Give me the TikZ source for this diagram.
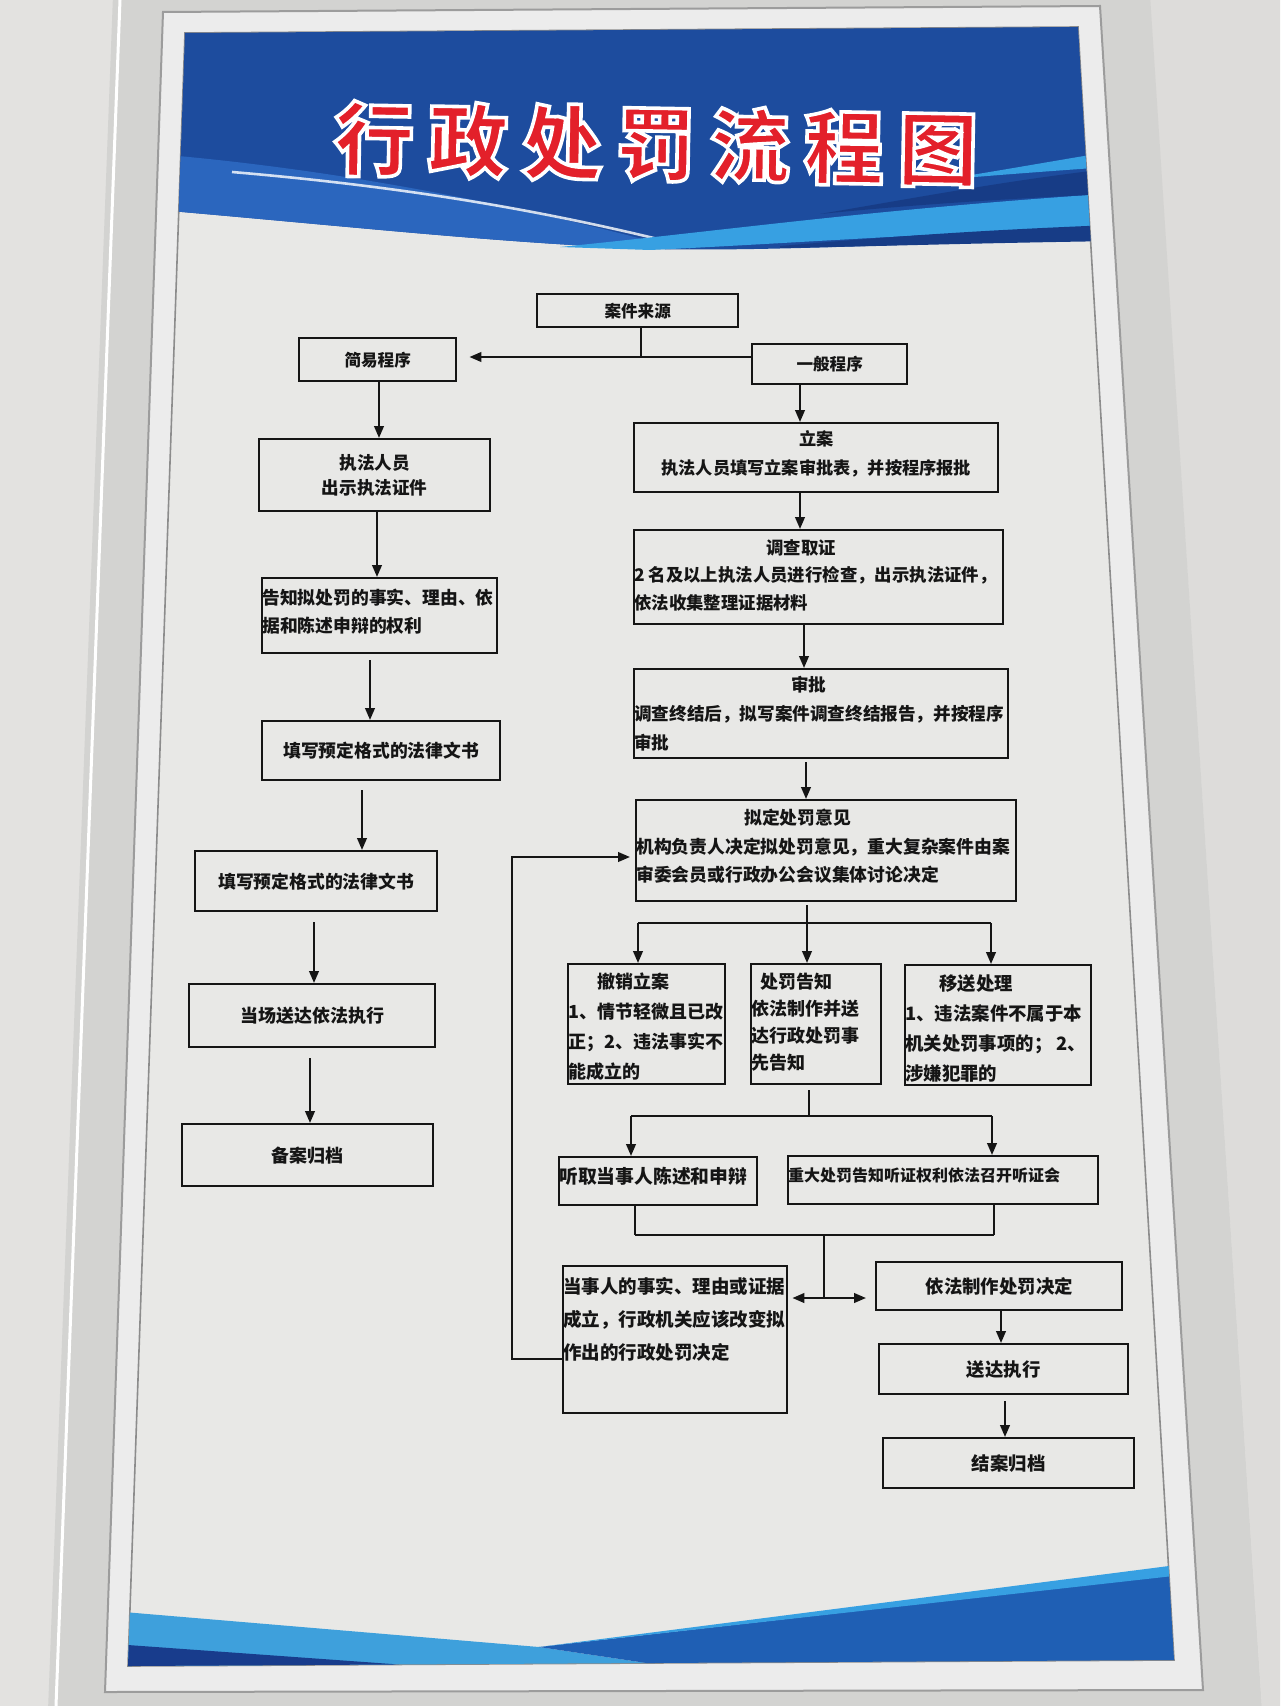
\documentclass[tikz,border=0pt]{standalone}
\usepackage{fontspec}
\setmainfont{Noto Sans CJK SC}
\usetikzlibrary{arrows.meta}
\definecolor{wall}{HTML}{E3E2E0}
\definecolor{wallR}{HTML}{DDDCDA}
\definecolor{frameface}{HTML}{D3D3D1}
\definecolor{lip}{HTML}{ECECEC}
\definecolor{lipedge}{HTML}{9C9C9C}
\definecolor{poster}{HTML}{E8E8E6}
\definecolor{hdark}{HTML}{1D4C9E}
\definecolor{hmid}{HTML}{2B66BE}
\definecolor{hcyan}{HTML}{37A0E2}
\definecolor{hnavy}{HTML}{173C86}
\definecolor{flight}{HTML}{3EA0DC}
\definecolor{fblue}{HTML}{1F5FB4}
\definecolor{fnavy}{HTML}{183C8C}
\definecolor{titlered}{HTML}{E3202A}
\definecolor{ink}{HTML}{151515}
\newcommand\cell[3]{\parbox[c][\dimexpr #2pt/2\relax][t]{\dimexpr #1pt/2\relax}{#3}}
\newcommand\outlineon{\special{pdf:literal direct 2 Tr 1 1 1 RG 1.8 w}}
\newcommand\outlineoff{\special{pdf:literal direct 0 Tr}}
\tikzset{
  box/.style={draw=ink, line width=1.2pt, inner sep=0pt, anchor=north west, text=ink},
  fnt/.style 2 args={font=\bfseries\fontsize{#1pt}{#2pt}\selectfont},
  conn/.style={draw=ink, line width=1.1pt, line join=miter},
  arr/.style={conn, -{Triangle[length=6pt,width=4.8pt]}},
  darr/.style={conn, {Triangle[length=6pt,width=4.8pt]}-{Triangle[length=6pt,width=4.8pt]}},
}
\begin{document}
\begin{tikzpicture}[x=0.5pt, y=-0.5pt]
\useasboundingbox (0,0) rectangle (1280,1706);
% wall and frame
\fill[wall] (0,0) rectangle (1280,1706);
\fill[wallR] (1150,0) -- (1280,0) -- (1280,1706) -- (1262,1706) -- cycle;
\fill[frameface] (113,-5) -- (1150,-5) -- (1262,1711) -- (48,1711) -- cycle;
\draw[white, line width=1.5pt] (120,0) -- (56,1706);
\fill[lip] (163,12) -- (1100,6) -- (1203,1690) -- (105,1692) -- cycle;
\draw[lipedge, line width=1pt] (163,12) -- (1100,6) -- (1203,1690) -- (105,1692) -- cycle;
\fill[poster] (185,33) -- (1078,27) -- (1174,1660) -- (128,1666) -- cycle;
\draw[black!45, line width=0.8pt] (185,33) -- (1078,27) -- (1174,1660) -- (128,1666) -- cycle;
% header and footer
\begin{scope}
\clip (185,33) -- (1078,27) -- (1174,1660) -- (128,1666) -- cycle;
\fill[hdark] (100,0) -- (1200,0) -- (1200,238) .. controls (950,240) and (800,252) .. (650,249) .. controls (480,242) and (330,224) .. (100,205) -- cycle;
\fill[hmid] (100,150) .. controls (300,162) and (500,200) .. (680,249) -- (650,249) .. controls (480,242) and (330,224) .. (100,205) -- cycle;
\draw[white, opacity=.8, line width=1.3pt] (232,172) .. controls (420,188) and (560,214) .. (690,247);
\fill[hcyan] (560,247) .. controls (750,228) and (900,205) .. (1200,188) -- (1200,222) .. controls (950,232) and (780,244) .. (650,250) -- cycle;
\fill[hnavy] (820,214) .. controls (950,192) and (1050,172) .. (1200,160) -- (1200,190) .. controls (1000,198) and (900,206) .. (820,214) -- cycle;
\fill[hcyan] (940,180) .. controls (1030,166) and (1100,152) .. (1200,138) -- (1200,160) .. controls (1100,168) and (1030,172) .. (940,180) -- cycle;
\fill[hnavy] (780,246) .. controls (900,236) and (1000,228) .. (1200,222) -- (1200,240) .. controls (1000,242) and (900,246) .. (780,248) -- cycle;
\fill[flight] (100,1610) -- (539,1647) -- (680,1668) -- (100,1672) -- cycle;
\fill[fnavy] (100,1643) -- (420,1666) -- (100,1672) -- cycle;
\fill[fblue] (539,1647) -- (1200,1572) -- (1200,1680) -- (680,1680) -- (680,1668) -- cycle;
\fill[hcyan] (539,1647) -- (1200,1562) -- (1200,1573) -- cycle;
\end{scope}
% boxes
\node[box, fnt={8.3}{10}, minimum width=100.5pt, minimum height=16.5pt] (src) at (536,293) {案件来源};
\node[box, fnt={8.3}{10}, minimum width=78.5pt, minimum height=21.5pt] (jy) at (298,337) {简易程序};
\node[box, fnt={8.3}{10}, minimum width=77.5pt, minimum height=20pt] (yb) at (751,343) {一般程序};
\node[box, fnt={8.8}{12.5}, minimum width=115.5pt, minimum height=36pt, align=center] (zf) at (258,438) {执法人员\\出示执法证件};
\node[box, fnt={8.6}{14.5}] (la) at (633,422) {\cell{364}{69}{\centering\vspace*{3.5pt}立案\\执法人员填写立案审批表，并按程序报批}};
\node[box, fnt={8.9}{14}] (gz) at (261,577) {\cell{235}{75}{\raggedright\vspace*{5.5pt}告知拟处罚的事实、理由、依\\据和陈述申辩的权利}};
\node[box, fnt={8.7}{13.75}] (dc) at (633,529) {\cell{369}{94}{\raggedright\vspace*{4.5pt}\hspace*{66pt}调查取证\\\mbox{2~名及以上执法人员进行检查，出示执法证件，}\\依法收集整理证据材料}};
\node[box, fnt={8.8}{14.5}] (sp) at (633,668) {\cell{374}{89}{\raggedright\vspace*{3.5pt}\hspace*{78.5pt}审批\\调查终结后，拟写案件调查终结报告，并按程序\\审批}};
\node[box, fnt={8.9}{14.25}] (nd) at (635,799) {\cell{380}{101}{\raggedright\vspace*{4.5pt}\hspace*{54pt}拟定处罚意见\\机构负责人决定拟处罚意见，重大复杂案件由案\\审委会员或行政办公会议集体讨论决定}};
\node[box, fnt={8.9}{11}, minimum width=119pt, minimum height=29.5pt] (tx1) at (261,720) {填写预定格式的法律文书};
\node[box, fnt={8.9}{11}, minimum width=121pt, minimum height=30pt] (tx2) at (194,850) {填写预定格式的法律文书};
\node[box, fnt={9}{11}, minimum width=123pt, minimum height=31.5pt] (dc2) at (188,983) {当场送达依法执行};
\node[box, fnt={9}{11}, minimum width=125.5pt, minimum height=31pt] (ba) at (181,1123) {备案归档};
\node[box, fnt={9}{15}] (cx) at (567,963) {\cell{157}{120}{\raggedright\vspace*{4.5pt}\hspace*{14.5pt}撤销立案\\1、情节轻微且已改\\正；2、违法事实不\\能成立的}};
\node[box, fnt={9}{13.5}] (cf) at (750,963) {\cell{130}{120}{\raggedright\vspace*{4.5pt}\hspace*{4.5pt}处罚告知\\依法制作并送\\达行政处罚事\\先告知}};
\node[box, fnt={9.2}{15}] (ys) at (904,964) {\cell{186}{120}{\raggedright\vspace*{5pt}\hspace*{17pt}移送处理\\1、违法案件不属于本\\机关处罚事项的； 2、\\涉嫌犯罪的}};
\node[box, fnt={9.4}{12}] (tq) at (558,1156) {\cell{198}{48}{\raggedright\vspace*{5pt}听取当事人陈述和申辩}};
\node[box, fnt={8}{11}] (zd) at (787,1155) {\cell{310}{48}{\raggedright\vspace*{5.5pt}重大处罚告知听证权利依法召开听证会}};
\node[box, fnt={9.25}{16.5}] (dsr) at (562,1265) {\cell{224}{147}{\raggedright\vspace*{5.5pt}当事人的事实、理由或证据\\成立，行政机关应该改变拟\\作出的行政处罚决定}};
\node[box, fnt={9.2}{11}, minimum width=123pt, minimum height=24pt] (yf) at (875,1261) {依法制作处罚决定};
\node[box, fnt={9.2}{11}, minimum width=124.5pt, minimum height=25pt] (sd) at (878,1343) {送达执行};
\node[box, fnt={9.2}{11}, minimum width=125.5pt, minimum height=25pt] (ja) at (882,1437) {结案归档};
% guide coordinates
\coordinate (j1) at (641,357);
\coordinate (xa) at (379,0); \coordinate (xb) at (377,0); \coordinate (xc) at (370,0);
\coordinate (xd) at (362,0); \coordinate (xe) at (314,0); \coordinate (xf) at (310,0);
\coordinate (xg) at (800,0); \coordinate (xh) at (804,0); \coordinate (xi) at (806,0);
\coordinate (xj) at (1001,0); \coordinate (xk) at (1005,0);
\coordinate (b0) at (807,923); \coordinate (bl) at (638,923); \coordinate (br) at (991,923);
\coordinate (c0) at (809,1116); \coordinate (cl) at (631,1116); \coordinate (cr) at (992,1116);
\coordinate (m0) at (824,1235); \coordinate (ml) at (635,1235); \coordinate (mr) at (994,1235);
\coordinate (m1) at (824,1298);
\coordinate (lp1) at (512,1359); \coordinate (lp2) at (512,857);
% connectors
\draw[conn] (src.south -| j1) -- (j1);
\draw[arr, shorten >=6pt] (yb.west |- j1) -- (jy.east |- j1);
\draw[arr] (jy.south -| xa) -- (zf.north -| xa);
\draw[arr] (zf.south -| xb) -- (gz.north -| xb);
\draw[arr, shorten <=3pt] (gz.south -| xc) -- (tx1.north -| xc);
\draw[arr, shorten <=4.5pt] (tx1.south -| xd) -- (tx2.north -| xd);
\draw[arr, shorten <=5pt] (tx2.south -| xe) -- (dc2.north -| xe);
\draw[arr, shorten <=5pt] (dc2.south -| xf) -- (ba.north -| xf);
\draw[arr] (yb.south -| xg) -- (la.north -| xg);
\draw[arr] (la.south -| xg) -- (dc.north -| xg);
\draw[arr] (dc.south -| xh) -- (sp.north -| xh);
\draw[arr, shorten <=1.5pt] (sp.south -| xi) -- (nd.north -| xi);
\draw[conn, shorten <=1.5pt] (nd.south -| b0) -- (b0);
\draw[conn] (bl) -- (br);
\draw[arr] (bl) -- (cx.north -| bl);
\draw[arr] (b0) -- (cf.north -| b0);
\draw[arr] (br) -- (ys.north -| br);
\draw[conn, shorten <=2.5pt] (cf.south -| c0) -- (c0);
\draw[conn] (cl) -- (cr);
\draw[arr] (cl) -- (tq.north -| cl);
\draw[arr] (cr) -- (zd.north -| cr);
\draw[conn] (tq.south -| ml) -- (ml);
\draw[conn] (zd.south -| mr) -- (mr);
\draw[conn] (ml) -- (mr);
\draw[conn] (m0) -- (m1);
\draw[darr, shorten <=2pt, shorten >=4.5pt] (dsr.east |- m1) -- (yf.west |- m1);
\draw[arr] (yf.south -| xj) -- (sd.north -| xj);
\draw[arr, shorten <=3pt] (sd.south -| xk) -- (ja.north -| xk);
\draw[arr, shorten >=2.5pt] (dsr.west |- lp1) -- (lp1) -- (lp2) -- (nd.west |- lp2);
% title
\node[font=\bfseries\fontsize{40pt}{40pt}\selectfont, text=titlered, inner sep=0pt, rotate=-1] (title) at (656,144) {\outlineon 行\hspace{7pt}政\hspace{7pt}处\hspace{7pt}罚\hspace{7pt}流\hspace{7pt}程\hspace{7pt}图\outlineoff};
\end{tikzpicture}
\end{document}
